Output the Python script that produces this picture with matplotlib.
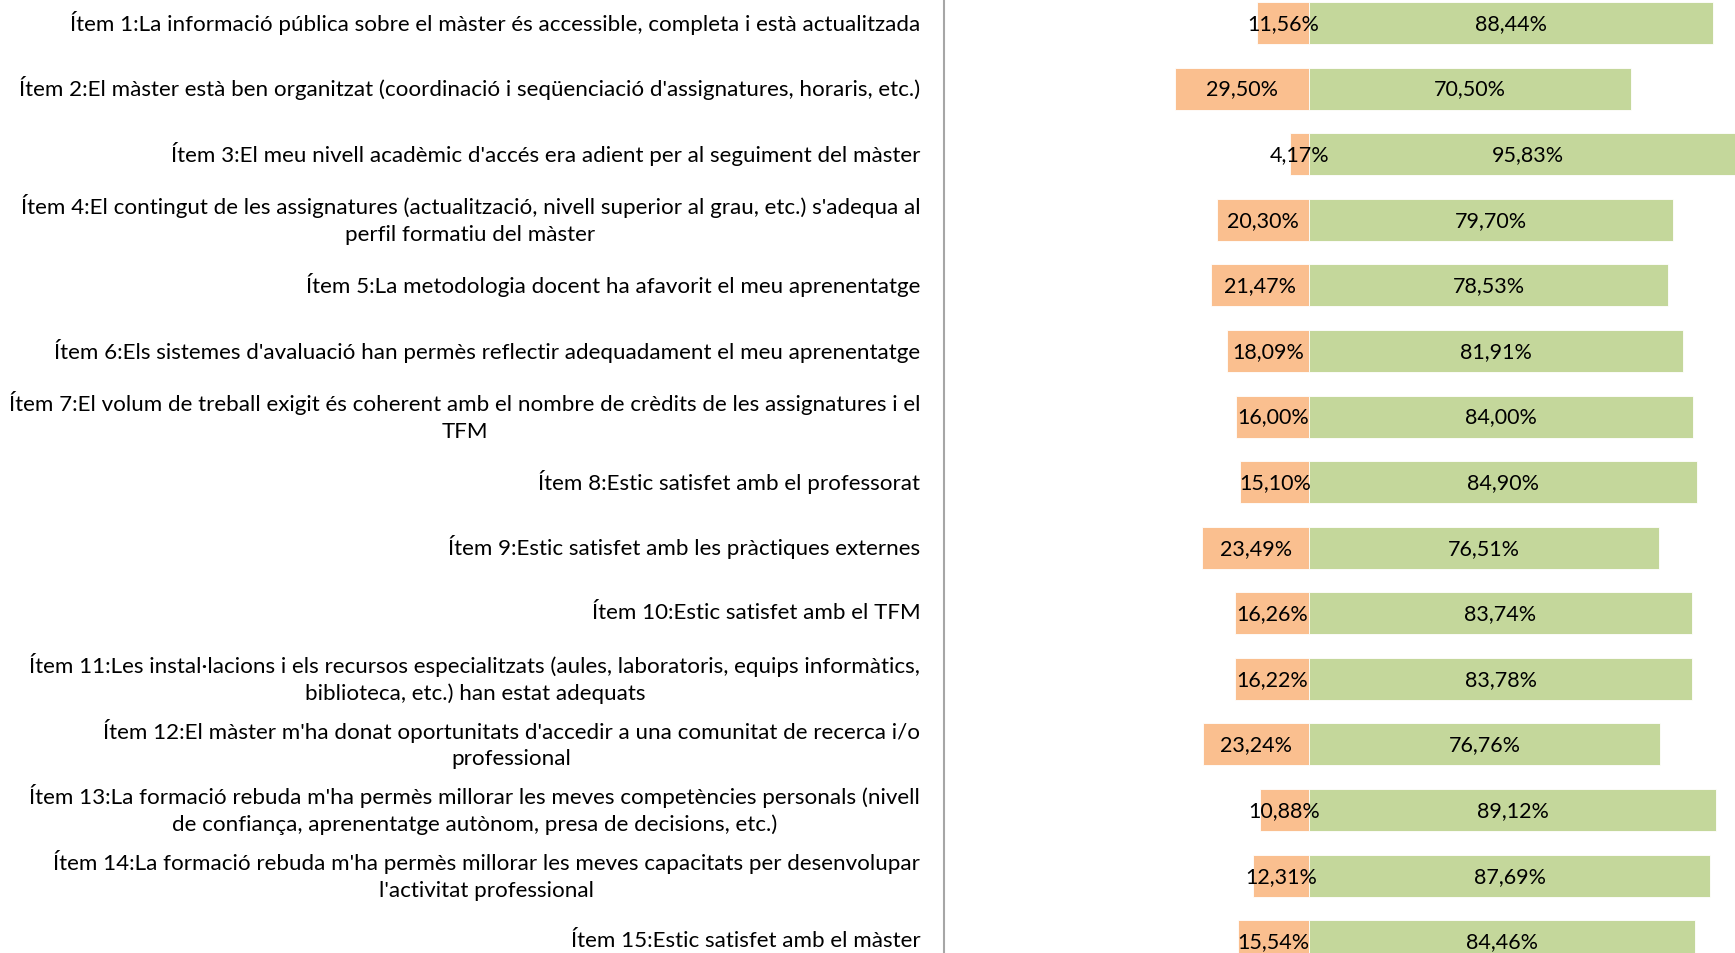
import matplotlib
matplotlib.use("Agg")
import matplotlib.pyplot as plt
import numpy as np

### data ###################################################################

items = [
    "Ítem 1:La informació pública sobre el màster és accessible, completa i està actualitzada",
    "Ítem 2:El màster està ben organitzat (coordinació i seqüenciació d'assignatures, horaris, etc.)",
    "Ítem 3:El meu nivell acadèmic d'accés era adient per al seguiment del màster",
    "Ítem 4:El contingut de les assignatures (actualització, nivell superior al grau, etc.) s'adequa al\nperfil formatiu del màster",
    "Ítem 5:La metodologia docent ha afavorit el meu aprenentatge",
    "Ítem 6:Els sistemes d'avaluació han permès reflectir adequadament el meu aprenentatge",
    "Ítem 7:El volum de treball exigit és coherent amb el nombre de crèdits de les assignatures i el\nTFM",
    "Ítem 8:Estic satisfet amb el professorat",
    "Ítem 9:Estic satisfet amb les pràctiques externes",
    "Ítem 10:Estic satisfet amb el TFM",
    "Ítem 11:Les instal·lacions i els recursos especialitzats (aules, laboratoris, equips informàtics,\nbiblioteca, etc.) han estat adequats",
    "Ítem 12:El màster m'ha donat oportunitats d'accedir a una comunitat de recerca i/o\nprofessional",
    "Ítem 13:La formació rebuda m'ha permès millorar les meves competències personals (nivell\nde confiança, aprenentatge autònom, presa de decisions, etc.)",
    "Ítem 14:La formació rebuda m'ha permès millorar les meves capacitats per desenvolupar\nl'activitat professional",
    "Ítem 15:Estic satisfet amb el màster",
]

disagree = [11.56, 29.50, 4.17, 20.30, 21.47, 18.09, 16.00, 15.10, 23.49, 16.26, 16.22, 23.24, 10.88, 12.31, 15.54]
agree = [88.44, 70.50, 95.83, 79.70, 78.53, 81.91, 84.00, 84.90, 76.51, 83.74, 83.78, 76.76, 89.12, 87.69, 84.46]

### plot ###################################################################

plt.rcParams['font.family'] = ['Lato', 'DejaVu Sans']

fig = plt.figure(figsize=(17.35, 9.54), dpi=100)
W, H = 1735, 954
# axes runs past the right edge of the figure, as in the reference
ax = fig.add_axes([944 / W, 0, (1766 - 944) / W, 1])

y = np.arange(len(items))
neg = -np.array(disagree)
pos = np.array(agree)

ax.barh(y, neg, height=0.64, color='#FABF8F', edgecolor='white', linewidth=0.6)
ax.barh(y, pos, height=0.64, color='#C4D79B', edgecolor='white', linewidth=0.6)

fmt = lambda v: f"{v:.2f}%".replace('.', ',')
for i in range(len(items)):
    ax.text(neg[i] / 2, y[i], fmt(disagree[i]), ha='center', va='center', fontsize=15.5)
    ax.text(pos[i] / 2, y[i], fmt(agree[i]), ha='center', va='center', fontsize=15.5)
    ax.text(-80 - 5.2, y[i] - 0.02, items[i], ha='right', va='center', fontsize=16.1,
            multialignment='center', linespacing=1.42)

ax.set_xlim(-80, 100)
ax.set_ylim(14.18, -0.366)
ax.set_xticks([])
ax.set_yticks([])
for s in ['top', 'right', 'bottom']:
    ax.spines[s].set_visible(False)
ax.spines['left'].set_color('#A6A6A6')
ax.spines['left'].set_linewidth(1.5)

fig.savefig('out.png', dpi=100)
